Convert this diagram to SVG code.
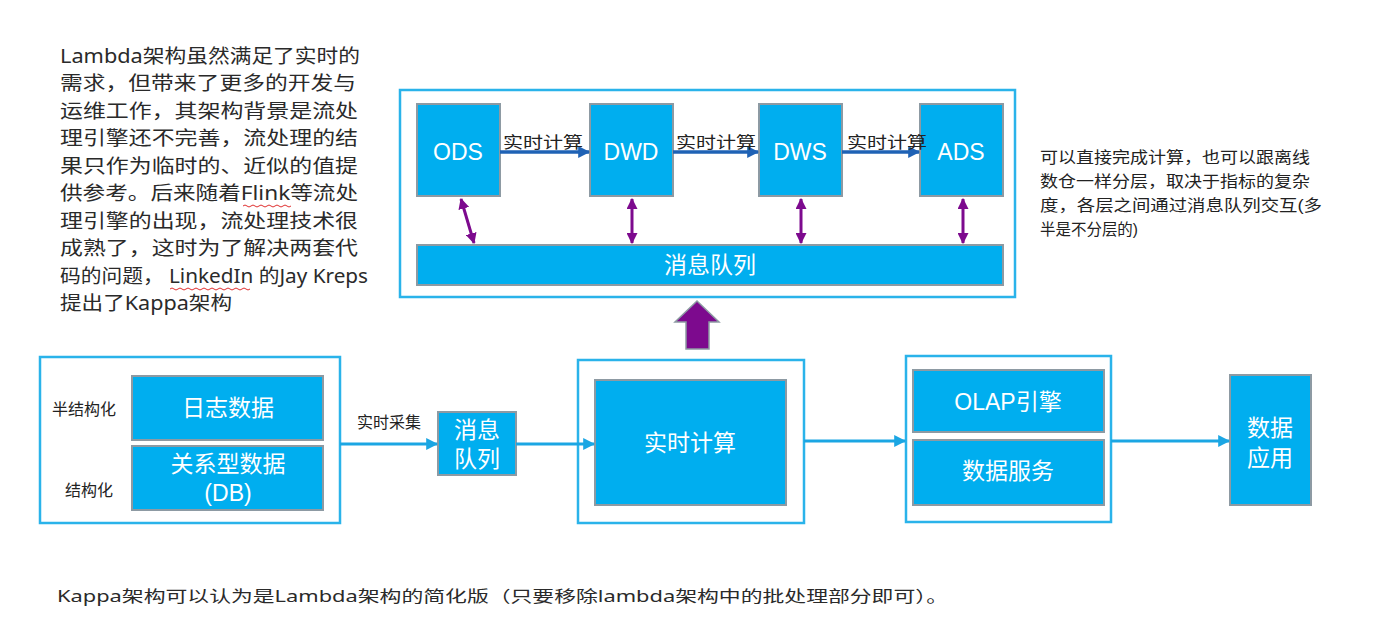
<svg xmlns="http://www.w3.org/2000/svg" width="1400" height="642" viewBox="0 0 1400 642">
<style>
.cont{fill:none;stroke:#2ab3ea;stroke-width:2.5}
.box{fill:#00aeef;stroke:#8d9aa3;stroke-width:2}
.bt{fill:#fff;font-family:"Liberation Sans","Noto Sans CJK SC",sans-serif;font-size:23px;text-anchor:middle}
.lbl{fill:#222;font-family:"Liberation Sans","Noto Sans CJK SC",sans-serif;font-size:16px}
.para{fill:#2a2a2a;font-family:"Noto Sans","Noto Sans CJK SC",sans-serif;font-size:19px}
.note{fill:#222;font-family:"Liberation Sans","Noto Sans CJK SC",sans-serif;font-size:16px}
.la{stroke:#1ba6e3;stroke-width:3;fill:none}
.da{stroke:#1f62b5;stroke-width:3.5;fill:none}
.pa{stroke:#7d0a8e;stroke-width:3;fill:none}
.wavy{fill:none;stroke:#e03030;stroke-width:1}
</style>
<defs>
<marker id="mLight" viewBox="0 0 10 10" refX="9" refY="5" markerWidth="12" markerHeight="12" markerUnits="userSpaceOnUse" orient="auto"><path d="M0,0 L10,5 L0,10 Z" fill="#1ba6e3"/></marker>
<marker id="mDark" viewBox="0 0 10 10" refX="9" refY="5" markerWidth="12" markerHeight="12" markerUnits="userSpaceOnUse" orient="auto"><path d="M0,0 L10,5 L0,10 Z" fill="#1f62b5"/></marker>
<marker id="mPurple" viewBox="0 0 10 10" refX="9" refY="5" markerWidth="11" markerHeight="11" markerUnits="userSpaceOnUse" orient="auto-start-reverse"><path d="M0,0 L10,5 L0,10 Z" fill="#7d0a8e"/></marker>
</defs>
<rect width="1400" height="642" fill="#fff"/>

<g id="left-paragraph">
<text class="para" x="60" y="63" textLength="300" lengthAdjust="spacingAndGlyphs">Lambda架构虽然满足了实时的</text>
<text class="para" x="60" y="90" textLength="296" lengthAdjust="spacingAndGlyphs">需求，但带来了更多的开发与</text>
<text class="para" x="60" y="118" textLength="298" lengthAdjust="spacingAndGlyphs">运维工作，其架构背景是流处</text>
<text class="para" x="60" y="145" textLength="298" lengthAdjust="spacingAndGlyphs">理引擎还不完善，流处理的结</text>
<text class="para" x="60" y="173" textLength="298" lengthAdjust="spacingAndGlyphs">果只作为临时的、近似的值提</text>
<text class="para" x="60" y="200" textLength="298" lengthAdjust="spacingAndGlyphs">供参考。后来随着Flink等流处</text>
<text class="para" x="60" y="228" textLength="298" lengthAdjust="spacingAndGlyphs">理引擎的出现，流处理技术很</text>
<text class="para" x="60" y="255" textLength="298" lengthAdjust="spacingAndGlyphs">成熟了，这时为了解决两套代</text>
<text class="para" x="60" y="283" textLength="308" lengthAdjust="spacingAndGlyphs">码的问题， LinkedIn 的Jay Kreps</text>
<text class="para" x="60" y="310" textLength="172" lengthAdjust="spacingAndGlyphs">提出了Kappa架构</text>
<path class="wavy" d="M243,206 q2,-2 4,0 t4,0 t4,0 t4,0 t4,0 t4,0 t4,0 t4,0 t4,0 t4,0 t4,0 t4,0"/>
<path class="wavy" d="M170,289 q2,-2 4,0 t4,0 t4,0 t4,0 t4,0 t4,0 t4,0 t4,0 t4,0 t4,0 t4,0 t4,0 t4,0 t4,0 t4,0 t4,0 t4,0 t4,0 t4,0 t4,0"/>
</g>

<g id="right-note">
<text class="note" x="1040" y="163" textLength="270" lengthAdjust="spacingAndGlyphs">可以直接完成计算，也可以跟离线</text>
<text class="note" x="1040" y="187" textLength="270" lengthAdjust="spacingAndGlyphs">数仓一样分层，取决于指标的复杂</text>
<text class="note" x="1040" y="211" textLength="282" lengthAdjust="spacingAndGlyphs">度，各层之间通过消息队列交互(多</text>
<text class="note" x="1040" y="235" textLength="98" lengthAdjust="spacingAndGlyphs">半是不分层的)</text>
</g>

<g id="bottom-note">
<text class="note" x="57" y="602" font-size="17" textLength="891" lengthAdjust="spacingAndGlyphs" style="font-family:'Noto Sans','Noto Sans CJK SC',sans-serif;fill:#2a2a2a">Kappa架构可以认为是Lambda架构的简化版（只要移除lambda架构中的批处理部分即可）。</text>
</g>

<g id="realtime-layers">
<rect class="cont" x="400" y="90" width="615" height="207"/>
</g>
<g id="ods"><rect class="box" x="417" y="104" width="83" height="92"/><text class="bt" x="458" y="160">ODS</text></g>
<g id="dwd"><rect class="box" x="590" y="104" width="83" height="92"/><text class="bt" x="631" y="160">DWD</text></g>
<g id="dws"><rect class="box" x="759" y="104" width="83" height="92"/><text class="bt" x="800" y="160">DWS</text></g>
<g id="ads"><rect class="box" x="920" y="104" width="83" height="92"/><text class="bt" x="961" y="160">ADS</text></g>
<g id="mq-bar"><rect class="box" x="417" y="245" width="586" height="40"/><text class="bt" x="710" y="273">消息队列</text></g>

<g id="source-container"><rect class="cont" x="40" y="357" width="300" height="166"/>
<text class="lbl" x="52" y="415">半结构化</text>
<text class="lbl" x="65" y="496">结构化</text>
</g>
<g id="log-data"><rect class="box" x="132" y="376" width="191" height="64"/><text class="bt" x="228" y="416">日志数据</text></g>
<g id="db-data"><rect class="box" x="132" y="446" width="191" height="64"/><text class="bt" x="228" y="472">关系型数据</text><text class="bt" x="228" y="501">(DB)</text></g>
<g id="mq-small"><rect class="box" x="438" y="412" width="78" height="63"/><text class="bt" x="477" y="438">消息</text><text class="bt" x="477" y="467">队列</text></g>
<g id="compute-container"><rect class="cont" x="578" y="360" width="226" height="163"/></g>
<g id="compute"><rect class="box" x="595" y="380" width="191" height="125"/><text class="bt" x="690" y="451">实时计算</text></g>
<g id="olap-container"><rect class="cont" x="906" y="356" width="205" height="166"/></g>
<g id="olap"><rect class="box" x="913" y="370" width="191" height="62"/><text class="bt" x="1008" y="410">OLAP引擎</text></g>
<g id="data-service"><rect class="box" x="913" y="440" width="191" height="65"/><text class="bt" x="1008" y="479">数据服务</text></g>
<g id="data-app"><rect class="box" x="1230" y="375" width="81" height="130"/><text class="bt" x="1270" y="436">数据</text><text class="bt" x="1270" y="466">应用</text></g>

<g id="connectors">
<line class="da" x1="500" y1="152" x2="589" y2="152" marker-end="url(#mDark)"/>
<line class="da" x1="673" y1="152" x2="758" y2="152" marker-end="url(#mDark)"/>
<line class="da" x1="842" y1="152" x2="919" y2="152" marker-end="url(#mDark)"/>
<text class="lbl" x="503" y="148" font-size="17" textLength="80" lengthAdjust="spacingAndGlyphs">实时计算</text>
<text class="lbl" x="676" y="148" font-size="17" textLength="80" lengthAdjust="spacingAndGlyphs">实时计算</text>
<text class="lbl" x="847" y="148" font-size="17" textLength="80" lengthAdjust="spacingAndGlyphs">实时计算</text>
<line class="pa" x1="461" y1="199" x2="474" y2="243" marker-start="url(#mPurple)" marker-end="url(#mPurple)"/>
<line class="pa" x1="632" y1="199" x2="632" y2="243" marker-start="url(#mPurple)" marker-end="url(#mPurple)"/>
<line class="pa" x1="801" y1="199" x2="801" y2="243" marker-start="url(#mPurple)" marker-end="url(#mPurple)"/>
<line class="pa" x1="963" y1="199" x2="963" y2="243" marker-start="url(#mPurple)" marker-end="url(#mPurple)"/>
<path d="M697,301 L719,322 L709,322 L709,349 L686,349 L686,322 L675,322 Z" fill="#7d0a8e" stroke="#8d9aa3" stroke-width="1.5"/>
<line class="la" x1="340" y1="444" x2="437" y2="444" marker-end="url(#mLight)"/>
<text class="lbl" x="357" y="428">实时采集</text>
<line class="la" x1="516" y1="444" x2="594" y2="444" marker-end="url(#mLight)"/>
<line class="la" x1="804" y1="441" x2="905" y2="441" marker-end="url(#mLight)"/>
<line class="la" x1="1111" y1="441" x2="1229" y2="441" marker-end="url(#mLight)"/>
</g>
</svg>
